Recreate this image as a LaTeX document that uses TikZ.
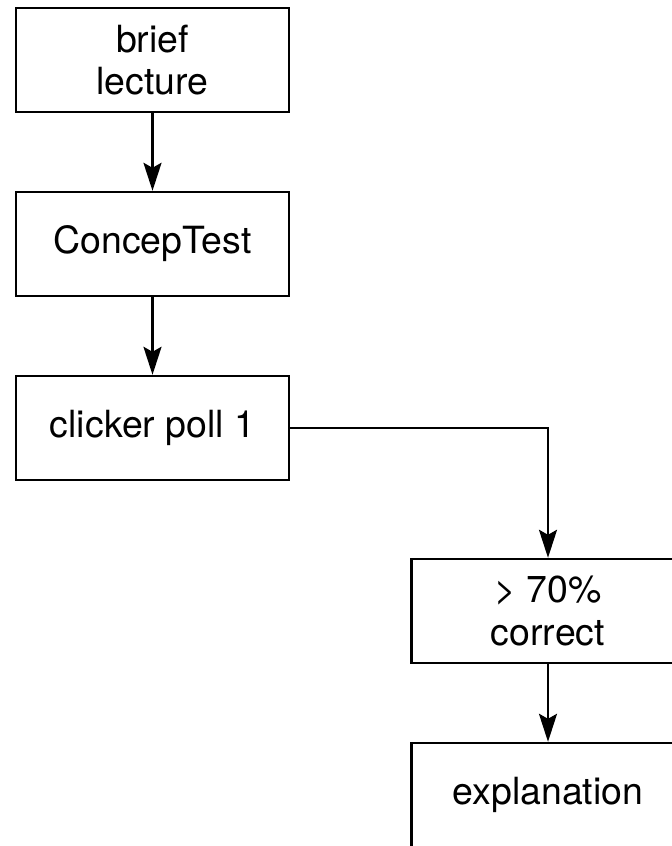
\documentclass[tikz,border=0pt]{standalone}
\usepackage{fontspec}
\setmainfont{TeX Gyre Heros}
\usetikzlibrary{positioning,arrows.meta}
\tikzset{
    on grid,
    node distance=92bp,
    auto,
    block/.style = {
        draw,
        shape=rectangle,
        minimum height=52bp,
        minimum width=136.5bp,
        align=center,
        inner sep=0pt,
        line width=1.2bp,
        font=\fontsize{18.8}{21.5}\selectfont
    },
    link/.style = {
        draw,
        ->,
        line width=1.2bp
    },
    >={Stealth[length=14bp,width=9bp,inset=2.5bp]},
}

\begin{document}
\begin{tikzpicture}
    \useasboundingbox (-76.25bp,30bp) rectangle (259.75bp,-393bp);
    \node[block] (lecture) at (0,0) {brief\\lecture};
    \node[block, below=of lecture] (concep) {ConcepTest};
    \node[block, below=of concep] (poll) {clicker poll 1};
    \node[block, below right=91.5bp and 197.75bp of poll] (correct) {> 70\%\\correct};
    \node[block, below=of correct] (expl) {explanation};

    \path[link] (lecture) -- (concep);
    \path[link] (concep) -- (poll);
    \path[link] (poll) -| (correct);
    \path[link] (correct) -- (expl);
\end{tikzpicture}
\end{document}
